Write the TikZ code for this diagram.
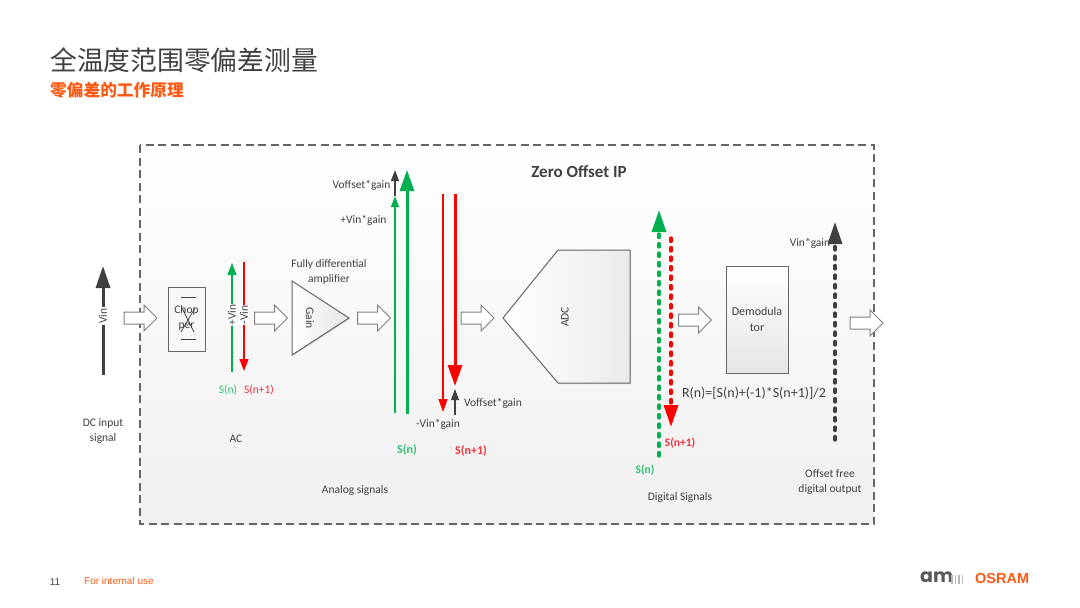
\documentclass[tikz,border=0pt]{standalone}
\usepackage{fontspec}
\usepackage{xcolor}
\setmainfont{Carlito}
\newfontfamily\cjkfont{Noto Sans CJK SC}
\newfontfamily\footfont{Liberation Sans}
\newfontfamily\logofont{Poppins}
\usetikzlibrary{calc,arrows.meta,shapes.arrows,shadows}
\definecolor{sigGreen}{HTML}{00B050}
\definecolor{sigRed}{HTML}{FF0000}
\definecolor{sigDark}{HTML}{404040}
\definecolor{txtGreen}{HTML}{2FBF71}
\definecolor{txtRed}{HTML}{F0323C}
\definecolor{brandOrange}{HTML}{FF5A14}
\tikzset{
	lbl/.style={font=\fontsize{11.5}{15}\selectfont,text=sigDark,align=center,inner sep=0pt},
	rotlbl/.style={lbl,fill=white,rotate=90,inner sep=1pt},
	blockarrow/.style={single arrow,draw=black!50,fill=white,line width=1pt,minimum height=33pt,
		inner xsep=0pt,inner ysep=5.5pt,single arrow head extend=7pt,single arrow head indent=0pt},
	unit/.style={draw=black!60,line width=1pt,drop shadow={shadow xshift=1pt,shadow yshift=-1pt,opacity=.25}},
	thinsig/.style={line width=1.1pt,-{Triangle[length=9pt,width=7pt]}},
	thicksig/.style={line width=3pt,-{Triangle[length=21pt,width=14pt]}},
	dotsig/.style={line width=3.2pt,line cap=round,dash pattern=on 3.5pt off 6pt,-{Triangle[length=22pt,width=14pt]}}
}
\begin{document}
\begin{tikzpicture}[x=1pt,y=-1pt]
	\useasboundingbox (0,0) rectangle (1080,608);

	%heading and sub heading
	\node[anchor=west,inner sep=0pt,text=sigDark,font=\cjkfont\fontsize{26.8}{30}\selectfont] (title) at (50,60) {全温度范围零偏差测量};
	\node[anchor=west,inner sep=0pt,text=brandOrange,font=\cjkfont\bfseries\fontsize{16.7}{20}\selectfont] (subtitle) at (50,90) {零偏差的工作原理};

	%dashed outer frame
	\draw[black!60,line width=1.1pt,dash pattern=on 8pt off 4.5pt,top color=white,bottom color=black!6]
		(140,145) rectangle (874,524);
	\node[lbl,font=\bfseries\fontsize{17}{20}\selectfont] (ipname) at (579,172) {Zero Offset IP};

	%the six hollow arrows between the stages
	\foreach \n/\x/\y in {a/137.5/318, b/268/318, c/371/318, d/474.5/318, e/692/320, f/863.5/323}{
		\node[blockarrow] (flow\n) at (\x,\y) {};
		}

	%input signal
	\coordinate (vinB) at (103,375);
	\coordinate (vinT) at (103,266);
	\draw[sigDark,line width=3pt,-{Triangle[length=22pt,width=14pt]}] (vinB)--(vinT);
	\node[rotlbl] (vin) at (103,316) {Vin};
	\node[lbl] (dcin) at (103,431) {DC input\\signal};

	%chopper block
	\node[unit,fill=black!3,minimum width=37pt,minimum height=64pt,inner sep=0pt] (chop) at (186.5,319) {};
	\coordinate (ctl) at (181,297);
	\coordinate (ctr) at (196,297);
	\coordinate (cbl) at (181,339);
	\coordinate (cbr) at (196,339);
	\coordinate (xtl) at (182,308);
	\coordinate (xtr) at (195,308);
	\coordinate (xbl) at (181,332);
	\coordinate (xbr) at (194,332);
	\draw[sigDark,line width=.8pt] (ctl)--(ctr);
	\draw[sigDark,line width=.8pt] (cbl)--(cbr);
	\draw[sigDark,line width=.7pt] (xtr)--(xbl);
	\draw[sigDark,line width=.7pt] (xtl)--(xbr);
	\node[lbl] (choplbl) at (186.5,318) {Chop\\per};

	%chopped signal
	\coordinate (acgB) at (232,372);
	\coordinate (acgT) at (232,263);
	\coordinate (acrT) at (244,262);
	\coordinate (acrB) at (244,371);
	\draw[sigGreen,thinsig,-{Triangle[length=12pt,width=9pt]}] (acgB)--(acgT);
	\draw[sigRed,thinsig,-{Triangle[length=12pt,width=9pt]}] (acrT)--(acrB);
	\node[rotlbl] (pvin) at (232,315) {+Vin};
	\node[rotlbl] (mvin) at (244,315) {-Vin};
	\node[lbl,text=txtGreen] (acsn) at (228,390) {S(n)};
	\node[lbl,text=txtRed] (acsnn) at (259,390) {S(n+1)};
	\node[lbl] (ac) at (236,439) {AC};

	%amplifier
	\draw[black!60,line width=1pt,left color=white,right color=black!10,drop shadow={shadow xshift=1pt,shadow yshift=-1pt,opacity=.25}]
		(292,281)--(349,318)--(292,355)--cycle;
	\node[lbl,rotate=-90] (gain) at (310,318) {Gain};
	\node[lbl] (amp) at (329,272) {Fully differential\\amplifier};

	%amplified signals
	\coordinate (gthinB) at (395,413);
	\coordinate (gthinT) at (395,196);
	\coordinate (goffT) at (395,170);
	\coordinate (gthickB) at (407,414);
	\coordinate (gthickT) at (407,170);
	\draw[sigDark,thinsig,-{Triangle[length=11pt,width=8pt]}] (gthinT)--(goffT);
	\draw[sigGreen,thinsig,-{Triangle[length=11pt,width=8pt]}] (gthinB)--(gthinT);
	\draw[sigGreen,thicksig] (gthickB)--(gthickT);
	\coordinate (rthinT) at (443,194);
	\coordinate (rthinB) at (443,412);
	\coordinate (rthickT) at (455,194);
	\coordinate (rthickB) at (455,386);
	\coordinate (roffB) at (455,415);
	\coordinate (roffT) at (455,389);
	\draw[sigRed,thinsig,-{Triangle[length=13pt,width=9pt]}] (rthinT)--(rthinB);
	\draw[sigRed,thicksig] (rthickT)--(rthickB);
	\draw[sigDark,thinsig,-{Triangle[length=11pt,width=8pt]}] (roffB)--(roffT);

	\node[lbl] (offgp) at (361.5,185) {Voffset*gain};
	\node[lbl] (vingp) at (363.5,220) {+Vin*gain};
	\node[lbl] (offgm) at (493,403) {Voffset*gain};
	\node[lbl] (vingm) at (438,424) {-Vin*gain};
	\node[lbl,text=txtGreen,font=\bfseries\fontsize{12}{15}\selectfont] (ansn) at (407,450) {S(n)};
	\node[lbl,text=txtRed,font=\bfseries\fontsize{12}{15}\selectfont] (ansnn) at (471,451) {S(n+1)};
	\node[lbl] (analog) at (355,490) {Analog signals};

	%converter
	\draw[black!60,line width=1pt,left color=white,right color=black!8,drop shadow={shadow xshift=1pt,shadow yshift=-1pt,opacity=.25}]
		(503,318)--(558,250)--(630,250)--(630,383)--(558,383)--cycle;
	\node[lbl,rotate=90] (adc) at (565,317) {ADC};

	%digital signals, dotted
	\coordinate (dgB) at (659,456);
	\coordinate (dgT) at (659,210);
	\coordinate (drT) at (671,238);
	\coordinate (drB) at (671,427);
	\draw[sigGreen,dotsig] (dgB)--(dgT);
	\draw[sigRed,dotsig] (drT)--(drB);
	\node[lbl,text=txtRed,font=\bfseries\fontsize{11.5}{14}\selectfont] (dsnn) at (680,443) {S(n+1)};
	\node[lbl,text=txtGreen,font=\bfseries\fontsize{11.5}{14}\selectfont] (dsn) at (645,470) {S(n)};
	\node[lbl] (digital) at (680,497) {Digital Signals};

	%demodulator and result
	\node[unit,top color=white,bottom color=black!10,minimum width=62pt,minimum height=107pt,inner sep=0pt] (demod) at (757,319.5) {};
	\node[lbl,font=\fontsize{12}{16}\selectfont] (demodlbl) at (757,319) {Demodula\\tor};
	\node[lbl,font=\fontsize{14}{16}\selectfont] (rn) at (754,393) {R(n)=[S(n)+(-1)*S(n+1)]/2};

	%output signal
	\coordinate (outB) at (835,440);
	\coordinate (outT) at (835,222);
	\draw[sigDark,dotsig] (outB)--(outT);
	\node[lbl] (vinout) at (810,243) {Vin*gain};
	\node[lbl] (offree) at (830,482) {Offset free\\digital output};

	%footer and logos
	\node[inner sep=0pt,text=sigDark,font=\footfont\fontsize{10}{11}\selectfont] (pageno) at (55,582) {11};
	\node[anchor=west,inner sep=0pt,text=brandOrange,font=\footfont\fontsize{10}{11}\selectfont] (internal) at (84,581) {For internal use};
	\node[anchor=west,inner sep=0pt,text=black!65,font=\logofont\bfseries\fontsize{19}{19}\selectfont] (logoam) at (920,577) {am};
	\foreach \n/\x in {a/952, b/955.5, c/959, d/962.5}{
		\coordinate (bar\n T) at (\x,575);
		\coordinate (bar\n B) at (\x,584);
		\draw[black!28,line width=1.5pt] (bar\n T)--(bar\n B);
		}
	\node[anchor=west,inner sep=0pt,text=brandOrange,font=\footfont\bfseries\fontsize{14.5}{15}\selectfont] (logoosram) at (975,579) {OSRAM};
\end{tikzpicture}
\end{document}
